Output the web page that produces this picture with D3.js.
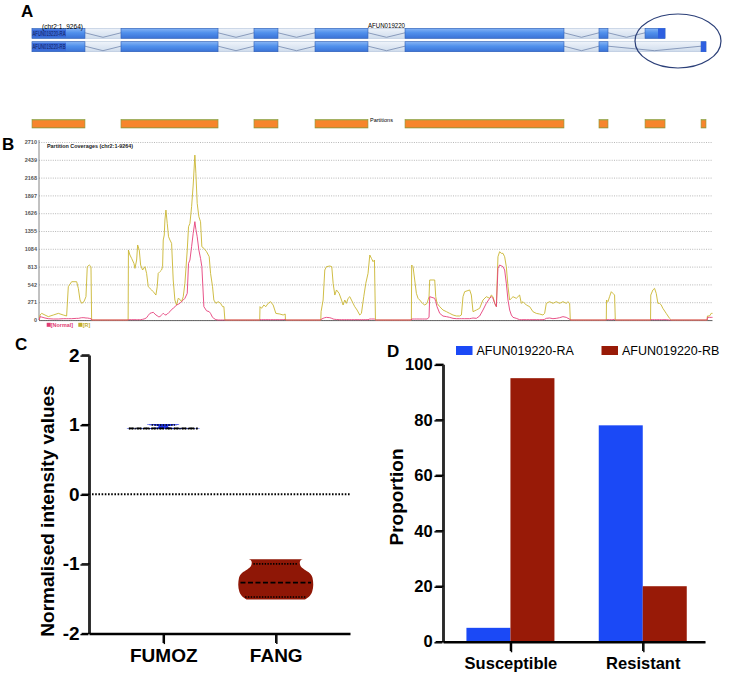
<!DOCTYPE html>
<html>
<head>
<meta charset="utf-8">
<script src="https://cdn.jsdelivr.net/npm/d3@7"></script>
<style>
  body { margin: 0; background: #fff; color: #000; }
  svg { display: block; }
</style>
</head>
<body>
<div id="chart"></div>
<script>
// ---------- data ----------
var geneLength = 9264;
var exonsRA = [[0,728],[1223,2557],[3051,3381],[3890,4618],[5127,7312],[7793,7917],[8426,8701]];
var exonsRB = [[0,728],[1223,2557],[3051,3381],[3890,4618],[5127,7312],[7793,7917],[9196,9264]];
var partitions = [[0,728],[1223,2557],[3051,3381],[3890,4618],[5127,7312],[7793,7917],[8426,8701],[9196,9264]];

var covTicks = [0,271,542,813,1084,1355,1626,1897,2168,2439,2710];
var covPos = [0,4,14,37,82,128,197,266,334,380,403,449,518,541,564,587,618,646,664,692,715,724,
  1226,1230,1251,1274,1306,1320,1343,1357,1379,1398,1425,1457,1480,1503,1526,1549,1572,1608,1626,1640,1663,1686,1700,1709,1723,1732,1746,1764,1782,1801,1824,1846,1869,1892,1915,1938,1961,1984,2007,2039,2057,2076,2099,2121,2144,2158,2176,2199,2222,2240,2268,2305,2341,2360,2387,2405,2433,2465,2497,2525,2543,2557,
  3036,3040,3061,3093,3120,3152,3185,3221,3258,3313,3358,3386,3391,
  3876,3880,3908,3931,3954,4000,4027,4046,4069,4092,4128,4161,4183,4206,4229,4252,4275,4298,4320,4343,4375,4412,4435,4467,4495,4526,4550,4573,4595,4614,4628,
  5122,5126,5145,5168,5191,5214,5237,5274,5306,5338,5365,5374,5443,5457,5475,5512,5557,5604,5649,5695,5741,5787,5810,5832,5855,5924,5947,5970,6016,6061,6107,6153,6199,6222,6245,6268,6291,6313,6336,6359,6382,6405,6428,6451,6474,6497,6520,6565,6611,6634,6657,6703,6749,6794,6840,6886,6932,6955,6978,7024,7069,7115,7161,7207,7253,7276,7299,7308,
  7803,7806,7826,7848,7872,7894,7917,7927,
  8412,8415,8444,8467,8490,8513,8536,8559,8581,8627,8673,8696,
  9191,9194,9223,9246,9264];
var covR = [0,0,76,101,76,51,76,101,76,61,507,583,583,482,304,254,279,355,812,837,812,0,
  0,1065,989,938,862,786,913,1142,1065,837,761,812,710,507,482,457,431,380,507,710,736,761,812,1218,1294,1522,1674,1471,1268,1218,1167,609,304,228,330,314,279,355,558,1065,1420,1471,1725,2055,2511,2233,1776,1573,1497,1116,1091,1040,964,710,507,304,254,279,254,203,203,0,
  0,203,178,228,203,254,279,228,101,91,76,91,0,
  0,127,304,761,812,822,812,558,380,457,406,304,228,304,254,330,355,304,254,203,152,76,101,355,558,710,989,938,888,913,0,
  0,837,812,609,406,330,304,254,228,254,355,609,609,355,254,203,152,127,101,76,61,61,76,355,431,457,380,127,152,178,304,355,330,380,355,254,203,963,1040,1015,1015,963,812,507,304,330,355,330,380,254,279,228,203,127,101,91,76,101,254,279,254,279,254,279,254,279,254,0,
  0,304,279,355,431,406,380,0,
  0,380,457,482,406,254,254,228,178,101,25,0,
  0,61,61,101,101];
var covNormal = [0,0,50,45,30,20,15,15,20,20,20,20,25,25,30,35,35,30,30,25,20,0,
  0,5,5,5,5,5,5,5,5,5,10,20,35,70,101,110,117,76,65,51,51,76,90,101,90,80,76,90,110,127,160,178,200,228,240,254,280,304,330,406,862,913,1116,1319,1497,1380,1268,1065,938,812,203,140,127,100,40,25,5,0,0,0,0,0,
  0,5,5,5,5,5,5,5,5,5,5,10,0,
  0,10,25,35,40,35,25,15,10,8,5,5,5,5,5,5,5,5,5,5,5,5,5,5,5,5,15,15,15,15,0,
  0,15,15,15,15,15,15,15,15,15,40,355,330,280,203,101,60,51,40,25,20,20,20,20,20,20,25,30,25,60,152,254,330,355,330,254,203,786,837,825,812,761,558,304,152,76,40,25,5,5,5,5,5,5,5,5,5,10,25,30,20,25,35,51,40,25,15,0,
  0,5,5,5,5,5,10,0,
  0,5,5,5,5,5,5,5,5,5,0,0,
  0,40,40,40,40];

var violinGroups = ["FUMOZ", "FANG"];
var violinTicks = [-2, -1, 0, 1, 2];
var fumozLevels = [1.008, 1.0, 0.99, 0.97, 0.952, 0.947, 0.942, 0.938];
var fumozDensity = [0.25, 0.43, 0.3, 0.12, 0.3, 0.97, 0.97, 0.1];
var fangLevels = [-0.935, -0.95, -0.98, -1.03, -1.08, -1.13, -1.2, -1.3, -1.4, -1.45, -1.49, -1.51];
var fangDensity = [0.72, 0.66, 0.64, 0.66, 0.76, 0.9, 0.98, 1.0, 0.97, 0.92, 0.84, 0.78];
var fumozQuartiles = [0.943, 0.946, 0.995];
var fangQuartiles = [-1.475, -1.27, -1.0];

var barCategories = ["Susceptible", "Resistant"];
var barSeries = ["AFUN019220-RA", "AFUN019220-RB"];
var barTicks = [0, 20, 40, 60, 80, 100];
var valuesRA = [5, 78];
var valuesRB = [95, 20];

// ---------- setup ----------
var font = "'Liberation Sans', Arial, sans-serif";
var svg = d3.select("#chart").append("svg")
    .attr("width", 729).attr("height", 678)
    .style("font-family", font);

var defs = svg.append("defs");
var grad = defs.append("linearGradient").attr("id", "exonGrad")
    .attr("x1", 0).attr("y1", 0).attr("x2", 0).attr("y2", 1);
grad.append("stop").attr("offset", "0%").attr("stop-color", "#86b4f4");
grad.append("stop").attr("offset", "45%").attr("stop-color", "#5090ec");
grad.append("stop").attr("offset", "100%").attr("stop-color", "#3a72d6");
var ig = defs.append("linearGradient").attr("id", "intronGrad")
    .attr("x1", 0).attr("y1", 0).attr("x2", 0).attr("y2", 1);
ig.append("stop").attr("offset", "0%").attr("stop-color", "#eef3fa");
ig.append("stop").attr("offset", "100%").attr("stop-color", "#cfdcec");
var pg = defs.append("linearGradient").attr("id", "partGrad")
    .attr("x1", 0).attr("y1", 0).attr("x2", 0).attr("y2", 1);
pg.append("stop").attr("offset", "0%").attr("stop-color", "#9aa83e");
pg.append("stop").attr("offset", "18%").attr("stop-color", "#f7852c");
pg.append("stop").attr("offset", "82%").attr("stop-color", "#f7852c");
pg.append("stop").attr("offset", "100%").attr("stop-color", "#b88a30");

// panel letters
[["A", 21, 17], ["B", 2, 150], ["C", 15, 350], ["D", 387, 357]].forEach(function(l) {
  svg.append("text").attr("x", l[1]).attr("y", l[2]).text(l[0])
    .attr("font-size", 17).attr("font-weight", "bold");
});

// ---------- panel A: gene model ----------
var gx = d3.scaleLinear().domain([0, geneLength]).range([32, 706]);

var transcripts = [
  {name: "AFUN019220-RA", y: 28.3, exons: exonsRA},
  {name: "AFUN019220-RB", y: 41.7, exons: exonsRB}
];
var rowH = 10;

transcripts.forEach(function(t) {
  var tg = svg.append("g");
  var end = t.exons[t.exons.length - 1][1];
  tg.append("rect").attr("x", gx(0)).attr("y", t.y)
    .attr("width", gx(end) - gx(0)).attr("height", rowH)
    .attr("fill", "url(#intronGrad)").attr("stroke", "#b3c4da").attr("stroke-width", 0.6);
  for (var i = 0; i < t.exons.length - 1; i++) {
    var a = gx(t.exons[i][1]), b = gx(t.exons[i + 1][0]);
    tg.append("polyline")
      .attr("points", [a, t.y + 4.5, (a + b) / 2, t.y + 9, b, t.y + 4.5].join(","))
      .attr("fill", "none").attr("stroke", "#7388ad").attr("stroke-width", 0.8);
  }
  tg.selectAll("rect.exon").data(t.exons).enter().append("rect")
    .attr("class", "exon")
    .attr("x", function(d) { return gx(d[0]); })
    .attr("y", t.y)
    .attr("width", function(d) { return gx(d[1]) - gx(d[0]); })
    .attr("height", rowH)
    .attr("fill", "url(#exonGrad)")
    .attr("stroke", "#2f5fb8").attr("stroke-width", 0.6);
  // darker tip on last exon
  var last = t.exons[t.exons.length - 1];
  var tipW = Math.min(7, gx(last[1]) - gx(last[0]));
  tg.append("rect").attr("x", gx(last[1]) - tipW).attr("y", t.y)
    .attr("width", tipW).attr("height", rowH).attr("fill", "#2d5fe0");
  // label box and text
  tg.append("rect").attr("x", gx(0)).attr("y", t.y + 1)
    .attr("width", 34).attr("height", rowH - 2).attr("fill", "#3a6ad8");
  tg.append("text").attr("x", gx(0) + 0.5).attr("y", t.y + 7.6)
    .attr("font-size", 7).attr("fill", "#0c1c5c")
    .attr("textLength", 33).attr("lengthAdjust", "spacingAndGlyphs")
    .text(t.name);
});

svg.append("text").attr("x", 42).attr("y", 28.5).attr("font-size", 7)
  .attr("textLength", 41).attr("lengthAdjust", "spacingAndGlyphs")
  .text("(chr2:1..9264)");
svg.append("text").attr("x", 368).attr("y", 28).attr("font-size", 7)
  .attr("textLength", 37).attr("lengthAdjust", "spacingAndGlyphs")
  .text("AFUN019220");

svg.append("ellipse").attr("cx", 678).attr("cy", 41).attr("rx", 43).attr("ry", 27)
  .attr("fill", "none").attr("stroke", "#2b3f78").attr("stroke-width", 1.2);

// partitions
svg.selectAll("rect.part").data(partitions).enter().append("rect")
  .attr("class", "part")
  .attr("x", function(d) { return gx(d[0]); })
  .attr("y", 119.5)
  .attr("width", function(d) { return gx(d[1]) - gx(d[0]); })
  .attr("height", 8.5)
  .attr("fill", "url(#partGrad)").attr("stroke", "#8a9c3c").attr("stroke-width", 0.6);
svg.append("text").attr("x", 370).attr("y", 122).attr("font-size", 5.5)
  .text("Partitions");

// ---------- panel B: coverage ----------
var covX = d3.scaleLinear().domain([0, geneLength]).range([39, 712.5]);
var covY = d3.scaleLinear().domain([0, 2710]).range([320, 142]);

var covAxis = svg.append("g").attr("transform", "translate(39,0)")
  .call(d3.axisLeft(covY).tickValues(covTicks).tickSize(-(712.5 - 39)).tickPadding(2)
        .tickFormat(function(d) { return String(d); }));
covAxis.select(".domain").remove();
covAxis.selectAll(".tick line")
  .style("stroke", "#9a9a9a").style("stroke-width", 0.7).style("stroke-dasharray", "1,1.3");
covAxis.selectAll(".tick text")
  .attr("font-size", 5.5).attr("font-weight", "bold").style("fill", "#555")
  .attr("font-family", font);
svg.append("line").attr("x1", 39).attr("x2", 39).attr("y1", 140).attr("y2", 320)
  .attr("stroke", "#666").attr("stroke-width", 0.8);
svg.append("line").attr("x1", 39).attr("x2", 712.5).attr("y1", 320.6).attr("y2", 320.6)
  .attr("stroke", "#444").attr("stroke-width", 0.8);

svg.append("text").attr("x", 47).attr("y", 147.5).attr("font-size", 5.4)
  .attr("font-weight", "bold").attr("fill", "#222")
  .text("Partition Coverages (chr2:1-9264)");

var idx = d3.range(covPos.length);
var lineR = d3.line().x(function(i) { return covX(covPos[i]); }).y(function(i) { return covY(covR[i]); });
var lineN = d3.line().x(function(i) { return covX(covPos[i]); }).y(function(i) { return covY(covNormal[i]); });
svg.append("path").datum(idx).attr("d", lineR)
  .attr("fill", "none").attr("stroke", "#c9b631").attr("stroke-width", 0.9);
svg.append("path").datum(idx).attr("d", lineN)
  .attr("fill", "none").attr("stroke", "#e5407a").attr("stroke-width", 0.9);

// legend B
var legB = [["[Normal]", "#e03c72", 46.7, 50.8], ["[R]", "#c2ad2a", 78.3, 82.7]];
legB.forEach(function(l) {
  svg.append("rect").attr("x", l[2]).attr("y", 322.8).attr("width", 4).attr("height", 4).attr("fill", l[1]);
  svg.append("text").attr("x", l[3]).attr("y", 326.8).attr("font-size", 5.4)
    .attr("font-weight", "bold").attr("fill", l[1]).text(l[0]);
});

// ---------- axes for C and D ----------
// drawn as two thin d3 axes one pixel apart to get the heavy GraphPad look
function heavyAxis(orient, scale, ticks, at, size, pad, fontSize) {
  [0, 1].forEach(function(k) {
    var ax = orient === "left" ? d3.axisLeft(scale) : d3.axisBottom(scale);
    ax.tickSize(size).tickSizeOuter(0).tickPadding(pad)
      .tickFormat(function(d) { return String(d); });
    if (ticks) ax.tickValues(ticks);
    var off = orient === "left" ? at - k * 1.2 : at + k * 1.2;
    var ag = svg.append("g")
      .attr("transform", orient === "left" ? "translate(" + off + ",0)" : "translate(0," + off + ")")
      .call(ax);
    ag.select(".domain").attr("stroke-width", 1.4);
    ag.selectAll(".tick line").attr("stroke-width", 1.4)
      .attr("transform", orient === "left" ? "translate(0," + (k * 1.1 - 0.5) + ")" : "translate(" + (k * 1.1 - 0.5) + ",0)");
    if (k === 0) {
      ag.selectAll(".tick text").attr("font-size", fontSize).attr("font-weight", "bold")
        .attr("font-family", font);
    } else {
      ag.selectAll(".tick text").remove();
    }
  });
}

// ---------- panel C: violin ----------
var vy = d3.scaleLinear().domain([-2, 2]).range([633.5, 355]);
var vx = d3.scalePoint().domain(violinGroups).range([89, 350]).padding(0.66);
var dens = d3.scaleLinear().domain([0, 1]).range([0, 37.5]);

svg.append("line").attr("x1", 92).attr("x2", 350).attr("y1", vy(0)).attr("y2", vy(0))
  .attr("stroke", "#000").attr("stroke-width", 1.8).attr("stroke-dasharray", "1.6,1.6");

function violin(vname, levels, density, quart, fill) {
  var c = vx(vname);
  var pts = levels.map(function(v, i) { return [v, density[i]]; });
  var area = d3.area().curve(d3.curveMonotoneY)
    .y(function(d) { return vy(d[0]); })
    .x0(function(d) { return c - dens(d[1]); })
    .x1(function(d) { return c + dens(d[1]); });
  svg.append("path").datum(pts).attr("d", area).attr("fill", fill);
  var w = d3.scaleLinear().domain(levels).range(density);
  quart.forEach(function(q, i) {
    var hw = dens(w(q)) - 2;
    svg.append("line").attr("x1", c - hw).attr("x2", c + hw)
      .attr("y1", vy(q)).attr("y2", vy(q))
      .attr("stroke", "#000").attr("stroke-width", i === 1 ? 1.8 : 1.6)
      .attr("stroke-dasharray", i === 1 ? "5,2.5" : "1.4,1.4");
  });
}
violin("FUMOZ", fumozLevels, fumozDensity, fumozQuartiles, "#2336e6");
violin("FANG", fangLevels, fangDensity, fangQuartiles, "#8f1706");

heavyAxis("left", vy, violinTicks, 89.6, 8, 2, 19);
heavyAxis("bottom", vx, null, vy(-2) - 0.6, 10, 6, 19);
svg.append("text").attr("transform", "translate(54,511) rotate(-90)")
  .attr("text-anchor", "middle").attr("font-size", 19).attr("font-weight", "bold")
  .text("Normalised intensity values");

// ---------- panel D: grouped bars ----------
var by = d3.scaleLinear().domain([0, 100]).range([641.7, 364.3]);
var bx = d3.scalePoint().domain(barCategories).range([443, 705]).padding(0.49).align(0.52);
var bx1 = d3.scaleBand().domain(barSeries).range([-44, 44]);
var barColors = {"AFUN019220-RA": "#1b49f6", "AFUN019220-RB": "#981a07"};
var seriesValues = {"AFUN019220-RA": valuesRA, "AFUN019220-RB": valuesRB};

barSeries.forEach(function(s, si) {
  svg.selectAll("rect.bar" + si).data(barCategories).enter().append("rect")
    .attr("class", "bar" + si)
    .attr("x", function(d) { return bx(d) + bx1(s); })
    .attr("y", function(d, i) { return by(seriesValues[s][i]); })
    .attr("width", bx1.bandwidth())
    .attr("height", function(d, i) { return by(0) - by(seriesValues[s][i]); })
    .attr("fill", barColors[s]);
});

heavyAxis("left", by, barTicks, 443.6, 8, 3, 16.5);
heavyAxis("bottom", bx, null, by(0) - 0.6, 10, 6.5, 16.5);
svg.append("text").attr("transform", "translate(403,497) rotate(-90)")
  .attr("text-anchor", "middle").attr("font-size", 19).attr("font-weight", "bold")
  .text("Proportion");

// legend D
var legX = [456, 601.5];
barSeries.forEach(function(s, i) {
  svg.append("rect").attr("x", legX[i]).attr("y", 346).attr("width", 16.5).attr("height", 9)
    .attr("fill", barColors[s]);
  svg.append("text").attr("x", legX[i] + 20.5).attr("y", 355).attr("font-size", 12.5)
    .text(s);
});
</script>
</body>
</html>
